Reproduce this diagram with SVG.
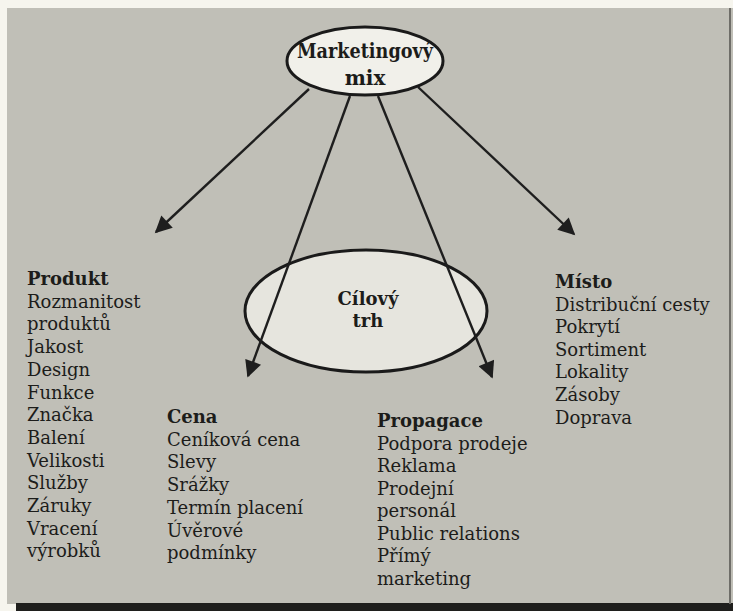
<svg xmlns="http://www.w3.org/2000/svg" width="733" height="611" viewBox="0 0 733 611">
<defs>
<style>
.t{font-family:"DejaVu Serif","Liberation Serif",serif;font-size:18px;fill:#1c1c1a}
.b{font-weight:bold}
.hd{font-family:"DejaVu Serif","Liberation Serif",serif;font-weight:bold;fill:#1c1c1a}
.ell{fill:#f1f0ea;stroke:#1a1a1a;stroke-width:3}
.con{stroke:#1e1e1e;stroke-width:2.4;fill:none;marker-end:url(#ah)}
</style>
<marker id="ah" viewBox="0 0 10 10" refX="9" refY="5" markerWidth="8" markerHeight="7" markerUnits="strokeWidth" orient="auto">
<path d="M0,0 L10,5 L0,10 z" fill="#1e1e1e"/>
</marker>
</defs>
<rect x="0" y="0" width="733" height="611" fill="#f6f5ee"/>
<rect x="7" y="8" width="726" height="596" fill="#c0bfb7"/>
<rect x="16" y="603" width="717" height="8" fill="#1f1f1d"/>
<rect x="729" y="8" width="2" height="596" fill="#6e6d68"/>

<g id="cilovy-trh">
<ellipse cx="366" cy="311" rx="121" ry="61" fill="#e6e5de" stroke="#1a1a1a" stroke-width="3"/>
<text class="hd" x="368" y="305" font-size="18" text-anchor="middle">Cílový</text>
<text class="hd" x="368" y="327" font-size="18" text-anchor="middle">trh</text>
</g>

<g id="edges">
<line class="con" x1="309" y1="89" x2="156" y2="232"/>
<line class="con" x1="350" y1="96" x2="248" y2="376"/>
<line class="con" x1="378" y1="96" x2="492" y2="377"/>
<line class="con" x1="418" y1="87" x2="574" y2="234"/>
</g>

<g id="marketing-mix">
<ellipse class="ell" cx="365" cy="61" rx="78" ry="34"/>
<text class="hd" x="365" y="58" font-size="20" text-anchor="middle" textLength="136" lengthAdjust="spacingAndGlyphs">Marketingový</text>
<text class="hd" x="365" y="85" font-size="20" text-anchor="middle">mix</text>
</g>

<g id="produkt">
<text class="t" x="27" y="285"><tspan class="b">Produkt</tspan><tspan x="27" dy="22.7">Rozmanitost</tspan><tspan x="27" dy="22.7">produktů</tspan><tspan x="27" dy="22.7">Jakost</tspan><tspan x="27" dy="22.7">Design</tspan><tspan x="27" dy="22.7">Funkce</tspan><tspan x="27" dy="22.7">Značka</tspan><tspan x="27" dy="22.7">Balení</tspan><tspan x="27" dy="22.7">Velikosti</tspan><tspan x="27" dy="22.7">Služby</tspan><tspan x="27" dy="22.7">Záruky</tspan><tspan x="27" dy="22.7">Vracení</tspan><tspan x="27" dy="22.7">výrobků</tspan></text>
</g>

<g id="cena">
<text class="t" x="167" y="423"><tspan class="b">Cena</tspan><tspan x="167" dy="22.7">Ceníková cena</tspan><tspan x="167" dy="22.7">Slevy</tspan><tspan x="167" dy="22.7">Srážky</tspan><tspan x="167" dy="22.7">Termín placení</tspan><tspan x="167" dy="22.7">Úvěrové</tspan><tspan x="167" dy="22.7">podmínky</tspan></text>
</g>

<g id="propagace">
<text class="t" x="377" y="427"><tspan class="b">Propagace</tspan><tspan x="377" dy="22.5">Podpora prodeje</tspan><tspan x="377" dy="22.5">Reklama</tspan><tspan x="377" dy="22.5">Prodejní</tspan><tspan x="377" dy="22.5">personál</tspan><tspan x="377" dy="22.5">Public relations</tspan><tspan x="377" dy="22.5">Přímý</tspan><tspan x="377" dy="22.5">marketing</tspan></text>
</g>

<g id="misto">
<text class="t" x="555" y="288"><tspan class="b">Místo</tspan><tspan x="555" dy="22.6">Distribuční cesty</tspan><tspan x="555" dy="22.6">Pokrytí</tspan><tspan x="555" dy="22.6">Sortiment</tspan><tspan x="555" dy="22.6">Lokality</tspan><tspan x="555" dy="22.6">Zásoby</tspan><tspan x="555" dy="22.6">Doprava</tspan></text>
</g>
</svg>
